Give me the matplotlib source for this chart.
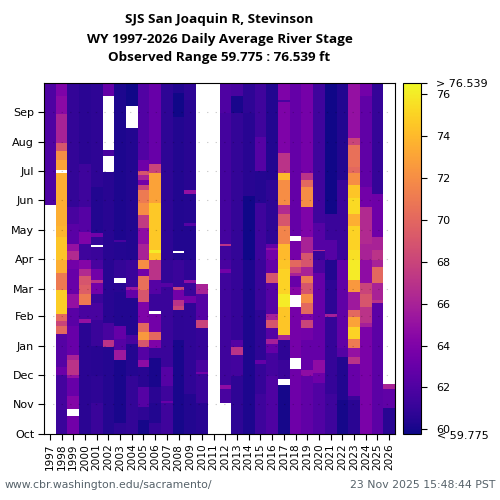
import numpy as np
import matplotlib
matplotlib.use('Agg')
from matplotlib import pyplot as plt

nan = np.nan

# water years on the x axis, day of water year (0 = Oct 1) on the y axis
years = np.arange(1997, 2027)
monthDays = [0, 31, 61, 92, 123, 151, 182, 212, 243, 273, 304, 335]
monthNames = ['Oct', 'Nov', 'Dec', 'Jan', 'Feb', 'Mar', 'Apr', 'May', 'Jun', 'Jul', 'Aug', 'Sep']
stageMin = 59.775
stageMax = 76.539
barTicks = [60, 62, 64, 66, 68, 70, 72, 74, 76]

# each year: (last day of the run, stage in ft), nan = no data
wy1997 = [(238, nan), (365, 62.0)]
wy1998 = [(25, 61.2), (61, 61.6), (70, 63.2), (104, 62.2), (112, 70), (118, 68), (125, 70), (150, 74.8), (167, 71), (181, 73.5),
          (205, 74.5), (216, 73.8), (271, 73.5), (275, nan), (285, 73), (294, 72), (303, 69), (333, 66), (351, 64.5), (365, 64)]
wy1999 = [(19, 63.4), (26, nan), (40, 64.2), (58, 63), (61, 65), (77, 67), (82, 66), (112, 63), (131, 62.4), (146, 65), (172, 63), (181, 63.5),
          (190, 66.5), (198, 65), (218, 62.4), (236, 61.7), (365, 60.9)]
wy2000 = [(115, 60.6), (120, 65), (134, 61.7), (146, 71), (155, 69.5), (164, 69), (172, 66.5), (181, 64.2),
          (198, 61.3), (210, 64), (236, 62.2), (281, 61.3), (365, 60.6)]
wy2001 = [(32, 61.2), (60, 60.7), (91, 60.5), (119, 61.2), (136, 61.7), (146, 61.2), (157, 63.5), (160, 67), (172, 63.5), (181, 61.7),
          (194, 61.2), (197, nan), (205, 60.9), (209, 63.5), (257, 60.3), (365, 60.7)]
wy2002 = [(90, 60.4), (98, 67), (115, 61.7), (181, 60.5), (272, 60.5), (289, nan), (295, 61.7), (351, nan), (365, 62.9)]
wy2003 = [(11, 60.7), (77, 60.1), (87, 65.5), (99, 62.2), (112, 62.9), (148, 60.3), (157, 60.5), (162, nan), (181, 60.9),
          (200, 60.4), (202, 61.7), (365, 60.2)]
wy2004 = [(60, 60.9), (94, 60.4), (103, 61.7), (141, 60.3), (150, 62.9), (153, 65.3), (181, 61.2), (318, 60.3), (341, nan), (365, 59.9)]
wy2005 = [(15, 60), (28, 60.7), (49, 62.2), (70, 60.5), (77, 64.7), (90, 62.2), (98, 69), (106, 72.5), (115, 70), (137, 64), (150, 69), (164, 70.5),
          (172, 63.5), (181, 72), (198, 66), (214, 64.7), (228, 67.5), (240, 72), (254, 71), (259, 68), (264, 63.5), (269, 66), (274, 69), (285, 63.3), (365, 62.1)]
wy2006 = [(11, 61), (32, 60.3), (49, 60.6), (79, 60.1), (89, 61.2), (98, 64), (106, 70), (125, 63.5), (128, nan), (146, 61.2), (160, 62.2), (181, 67),
          (188, 74.5), (191, 76), (240, 74.6), (271, 73), (281, 68), (365, 63)]
wy2007 = [(32, 61.4), (34, 63), (50, 61.3), (70, 62.2), (153, 61.2), (157, 62.2), (181, 60.9), (365, 60.7)]
wy2008 = [(15, 60), (98, 60.1), (129, 60.7), (133, 68), (139, 67), (150, 63.5), (153, 68), (181, 61.2), (188, 60.3), (190, nan), (330, 60.3), (355, 59.9), (365, 60.3)]
wy2009 = [(42, 60.3), (136, 60.8), (143, 63.5), (157, 61.2), (160, 64.8), (181, 60.8), (216, 60.3), (219, 62.2), (250, 60.4), (254, 65), (347, 60.5), (365, 60.7)]
wy2010 = [(32, 60.5), (62, 61.2), (64, 63.5), (77, 61.7), (110, 61), (119, 68), (146, 62.2), (156, 66), (365, nan)]
wy2011 = [(365, nan)]
wy2012 = [(32, nan), (47, 61.7), (51, 64.7), (167, 61.4), (172, 63.5), (181, 61.7), (195, 61.3), (198, 67), (334, 61.6), (365, 62)]
wy2013 = [(60, 60.7), (82, 61.5), (90, 67), (98, 62.2), (181, 61), (334, 60.9), (351, 60.1), (365, 61.7)]
wy2014 = [(181, 60.2), (247, 59.9), (334, 60.5), (365, 60.7)]
wy2015 = [(42, 61.3), (73, 61), (77, 62.9), (129, 60.7), (181, 61.2), (240, 61.3), (274, 60.4), (309, 62.2), (365, 61.4)]
wy2016 = [(60, 62), (84, 61.5), (94, 62.9), (99, 65.8), (110, 62.2), (119, 69), (125, 65.8), (157, 62.2), (167, 69), (181, 62.9),
          (191, 63.5), (193, 64.7), (198, 62.9), (264, 60.7), (365, 60.3)]
wy2017 = [(51, 60), (57, nan), (77, 61.2), (98, 60.7), (103, 66), (132, 74.5), (146, 76), (172, 75), (181, 74.5),
          (198, 74), (216, 71.5), (229, 69), (238, 66.5), (264, 72), (271, 74), (292, 67), (345, 64), (347, 61.7), (365, 64)]
wy2018 = [(68, 63.3), (79, nan), (132, 63.6), (145, nan), (153, 64.3), (164, 63), (167, 66), (174, 68), (181, 70),
          (201, 63.6), (206, nan), (365, 62.9)]
wy2019 = [(60, 62.7), (67, 64.7), (98, 62.9), (110, 63.5), (119, 68), (125, 64), (136, 70), (146, 72), (157, 69), (164, 71), (174, 66), (181, 69),
          (188, 69), (205, 66), (236, 64), (257, 72), (264, 70), (271, 67), (365, 63.6)]
wy2020 = [(53, 62.1), (63, 63.3), (77, 64.7), (167, 62.9), (181, 61.7), (190, 61.2), (191, 66.5), (219, 62.2), (365, 61.4)]
wy2021 = [(42, 61.3), (122, 61), (125, 65.8), (160, 60.7), (181, 60.3), (202, 62.2), (229, 61.2), (365, 59.9)]
wy2022 = [(35, 60), (80, 60.3), (89, 62.2), (181, 62.7), (264, 61.2), (365, 60.3)]
wy2023 = [(35, 60.6), (40, 61.2), (73, 63), (80, 67), (89, 65), (99, 71), (111, 75), (122, 73), (129, 70), (148, 65.5), (160, 72.5), (181, 76),
          (191, 75.5), (216, 75), (229, 73.5), (245, 75.3), (259, 74.5), (271, 72), (278, 70), (301, 70.5), (308, 68), (334, 65), (365, 65)]
wy2024 = [(111, 63.8), (115, 65.8), (132, 67), (146, 69), (157, 68), (181, 64.7), (198, 66), (236, 66.5), (257, 63.5), (351, 62.7), (365, 63.5)]
wy2025 = [(136, 62.5), (139, 67), (157, 66), (174, 70), (181, 66), (191, 67), (205, 66), (250, 63.3), (358, 61), (365, 60.7)]
wy2026 = [(27, 60.5), (47, 62.7), (52, 66), (365, nan)]

allYears = [wy1997, wy1998, wy1999, wy2000, wy2001, wy2002, wy2003, wy2004, wy2005, wy2006,
            wy2007, wy2008, wy2009, wy2010, wy2011, wy2012, wy2013, wy2014, wy2015, wy2016,
            wy2017, wy2018, wy2019, wy2020, wy2021, wy2022, wy2023, wy2024, wy2025, wy2026]


def expandRuns(runs):
    column = np.full(365, nan)
    start = 0
    for end, value in runs:
        column[start:end] = value
        start = max(start, end)
    return column


grid = np.column_stack([expandRuns(runs) for runs in allYears])
xEdges = np.arange(years[0] - 0.5, years[-1] + 1.5)
yEdges = np.arange(0, 366)

fig = plt.figure(figsize=(5, 5), dpi=100, facecolor='white')
ax = fig.add_axes([44 / 500, 1 - 434 / 500, 351 / 500, 351 / 500])
mesh = ax.pcolormesh(xEdges, yEdges, np.ma.masked_invalid(grid), cmap='plasma',
                     vmin=stageMin, vmax=stageMax, shading='flat', rasterized=True)
ax.set_xlim(xEdges[0], xEdges[-1])
ax.set_ylim(0, 365)
ax.set_xticks(years)
ax.set_xticklabels([str(y) for y in years], rotation=90, fontsize=7.6)
ax.set_yticks(monthDays)
ax.set_yticklabels(monthNames, fontsize=8)
ax.tick_params(axis='both', length=4, width=0.8, pad=3)
for day in monthDays[1:]:
    ax.axhline(day, color=(0, 0, 0, 0.2), lw=0.8, dashes=(1.2, 6.5), zorder=3)

cax = fig.add_axes([403 / 500, 1 - 434 / 500, 18 / 500, 351 / 500])
bar = fig.colorbar(mesh, cax=cax)
bar.set_ticks(barTicks + [stageMax])
bar.set_ticklabels([str(t) for t in barTicks] + ['> %.3f' % stageMax], fontsize=8)
cax.tick_params(length=4, width=0.8, pad=7)
# low end label sits just under the 60 tick, as in the original
cax.text(437 / 500, 1 - 436 / 500, '< %.3f' % stageMin, transform=fig.transFigure, ha='left', va='center', fontsize=8)

fig.text(219.5 / 500, 1 - 20 / 500, 'SJS San Joaquin R, Stevinson', ha='center', va='center',
         family='Open Sans', weight='bold', fontsize=9.7)
fig.text(219.5 / 500, 1 - 39 / 500, 'WY 1997-2026 Daily Average River Stage', ha='center', va='center',
         family='Open Sans', weight='bold', fontsize=9.7)
fig.text(219.5 / 500, 1 - 58 / 500, 'Observed Range 59.775 : 76.539 ft', ha='center', va='center',
         family='Open Sans', weight='bold', fontsize=9.7)
fig.text(5 / 500, 1 - 485 / 500, 'www.cbr.washington.edu/sacramento/', ha='left', va='center',
         color='#56626a', fontsize=7.8)
fig.text(495 / 500, 1 - 485 / 500, '23 Nov 2025 15:48:44 PST', ha='right', va='center',
         color='#56626a', fontsize=7.8)

fig.savefig('out.png', dpi=100)
